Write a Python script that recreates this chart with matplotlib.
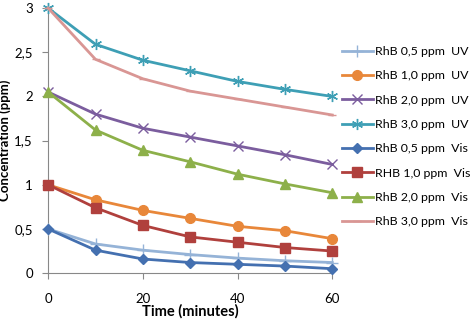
import matplotlib
matplotlib.use("Agg")
import matplotlib.pyplot as plt
from matplotlib.ticker import FuncFormatter

plt.rcParams['font.family'] = ['Lato', 'DejaVu Sans']

# time points (minutes)
time = [0, 10, 20, 30, 40, 50, 60]

# concentrations (ppm)
rhb05_uv = [0.50, 0.33, 0.26, 0.21, 0.17, 0.14, 0.12]
rhb10_uv = [1.00, 0.83, 0.71, 0.62, 0.53, 0.48, 0.39]
rhb20_uv = [2.05, 1.80, 1.64, 1.54, 1.44, 1.34, 1.23]
rhb30_uv = [3.00, 2.59, 2.41, 2.29, 2.17, 2.08, 2.00]
rhb05_vis = [0.50, 0.26, 0.16, 0.12, 0.10, 0.08, 0.05]
rhb10_vis = [1.00, 0.74, 0.54, 0.41, 0.35, 0.29, 0.25]
rhb20_vis = [2.05, 1.62, 1.39, 1.26, 1.12, 1.01, 0.91]
rhb30_vis = [3.00, 2.42, 2.20, 2.06, 1.97, 1.88, 1.79]

series = [
    ("RhB 0,5 ppm  UV", rhb05_uv, "#95B3D7", "+", 8),
    ("RhB 1,0 ppm  UV", rhb10_uv, "#E8873A", "o", 7),
    ("RhB 2,0 ppm  UV", rhb20_uv, "#7B5D9E", "x", 7),
    ("RhB 3,0 ppm  UV", rhb30_uv, "#3E9FB5", (6, 2, 0), 8),
    ("RhB 0,5 ppm  Vis", rhb05_vis, "#4470B0", "D", 5.5),
    ("RHB 1,0 ppm  Vis", rhb10_vis, "#B0403D", "s", 7.5),
    ("RhB 2,0 ppm  Vis", rhb20_vis, "#8DB04A", "^", 7.5),
    ("RhB 3,0 ppm  Vis", rhb30_vis, "#D99694", "_", 6),
]

fig = plt.figure(figsize=(4.72, 3.24), dpi=100)
ax = fig.add_axes([0.102, 0.157, 0.602, 0.818])

for label, vals, color, marker, ms in series:
    ax.plot(time, vals, color=color, lw=2.0, marker=marker, ms=ms,
            mew=1.0, label=label, clip_on=False, zorder=3)

ax.set_xlim(0, 60)
ax.set_ylim(0, 3)
ax.set_xticks([0, 20, 40, 60])
ax.set_yticks([0, 0.5, 1, 1.5, 2, 2.5, 3])
ax.yaxis.set_major_formatter(FuncFormatter(lambda v, p: ("%g" % v).replace(".", ",")))

for s in ["top", "right"]:
    ax.spines[s].set_visible(False)
for s in ["left", "bottom"]:
    ax.spines[s].set_color("#888888")
ax.tick_params(colors="#888888", labelcolor="black", labelsize=9.5, length=4)
ax.tick_params(axis="x", pad=10)
ax.tick_params(axis="y", pad=7)

ax.set_xlabel("Time (minutes)", fontsize=10.5, fontweight="bold", labelpad=0)
ax.set_ylabel("Concentration (ppm)", fontsize=9.5, fontweight="bold")
ax.yaxis.set_label_coords(-0.13, 0.5)

fig.legend(loc="upper left", bbox_to_anchor=(0.7246, 0.858), frameon=False,
           fontsize=8.9, handlelength=2.5, handletextpad=0.15, labelspacing=1.08,
           borderpad=0, borderaxespad=0)

plt.savefig("out.png", dpi=100)
